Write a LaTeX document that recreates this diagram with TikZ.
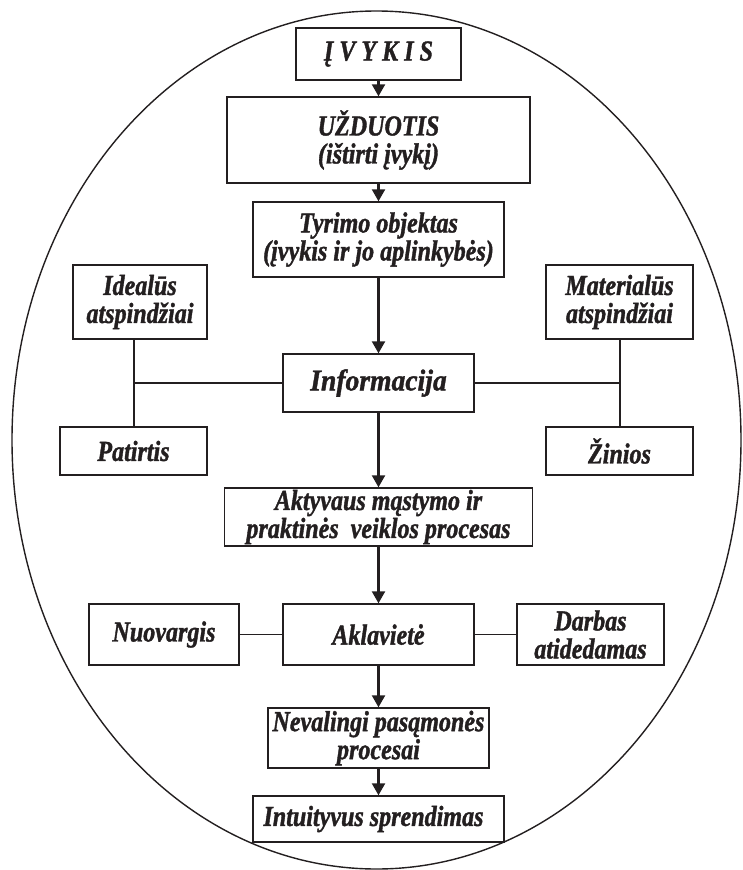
\documentclass[tikz,border=0pt]{standalone}
\usepackage{fontspec}
\setmainfont{Liberation Serif}
\newfontfamily\boxfont{Liberation Serif}[UprightFont=* Bold Italic, FakeStretch=0.83, FakeBold=1.3]
\newfontfamily\infofont{Liberation Serif}[UprightFont=* Bold Italic, FakeStretch=0.92, FakeBold=1.3]
\usetikzlibrary{arrows.meta}
\definecolor{ink}{HTML}{231F20}
\begin{document}
\begin{tikzpicture}[x=1pt,y=-1pt,
  box/.style={draw=ink, line width=1.4pt, rectangle, inner sep=0pt, align=center,
    text=ink, font=\boxfont\fontsize{29}{28}\selectfont},
  arr/.style={draw=ink, line width=2.3pt, -{Triangle[length=12pt,width=13pt]}},
  ln/.style={draw=ink, line width=1.4pt}]
\useasboundingbox (0,0) rectangle (742,870);
\draw[ln] (376.5,440) ellipse [x radius=364.5pt, y radius=429pt];

\node[box, minimum width=165pt, minimum height=52pt] (ivykis) at (378.5,54) {Į V Y K I S};
\node[box, minimum width=303pt, minimum height=86pt] (uzd) at (378.5,140) {UŽDUOTIS\\(ištirti įvykį)};
\node[box, minimum width=251pt, minimum height=75pt] (tyr) at (378.5,239.5) {Tyrimo objektas\\(įvykis ir jo aplinkybės)};
\node[box, minimum width=134pt, minimum height=74pt] (ideal) at (140,302) {Idealūs\\atspindžiai};
\node[box, minimum width=147pt, minimum height=74pt] (mat) at (619.5,302) {Materialūs\\atspindžiai};
\node[box, minimum width=191pt, minimum height=58pt, font=\infofont\fontsize{30}{30}\selectfont] (info) at (378.5,383) {Informacija};
\node[box, minimum width=147pt, minimum height=48pt] (pat) at (133.5,451) {Patirtis};
\node[box, minimum width=147pt, minimum height=48pt] (zin) at (619.5,451) {Žinios};
\node[box, minimum width=308pt, minimum height=58pt] (akt) at (378.5,517) {Aktyvaus mąstymo ir\\praktinės\ \ veiklos procesas};
\node[box, minimum width=150pt, minimum height=61pt] (nuo) at (164,634.5) {Nuovargis};
\node[box, minimum width=191pt, minimum height=61pt] (akl) at (378.5,634.5) {Aklavietė};
\node[box, minimum width=147pt, minimum height=61pt] (dar) at (590.5,634.5) {Darbas\\atidedamas};
\node[box, minimum width=221pt, minimum height=60pt] (nev) at (378.5,738) {Nevalingi pasąmonės\\procesai};
\node[box, minimum width=251pt, minimum height=46pt] (int) at (378.5,819) {Intuityvus sprendimas\hspace*{10pt}};

\draw[arr] (ivykis) -- (uzd);
\draw[arr] (uzd) -- (tyr);
\draw[arr] (tyr) -- (info);
\draw[arr] (info) -- (akt);
\draw[arr] (akt) -- (akl);
\draw[arr] (akl) -- (nev);
\draw[arr] (nev) -- (int);

\coordinate (lj) at (134,383);
\coordinate (rj) at (620,383);
\draw[ln] (ideal.south -| lj) -- (pat.north -| lj);
\draw[ln] (info.west) -- (lj);
\draw[ln] (mat.south -| rj) -- (zin.north -| rj);
\draw[ln] (info.east) -- (rj);
\draw[ln] (nuo) -- (akl);
\draw[ln] (akl) -- (dar);
\end{tikzpicture}
\end{document}
